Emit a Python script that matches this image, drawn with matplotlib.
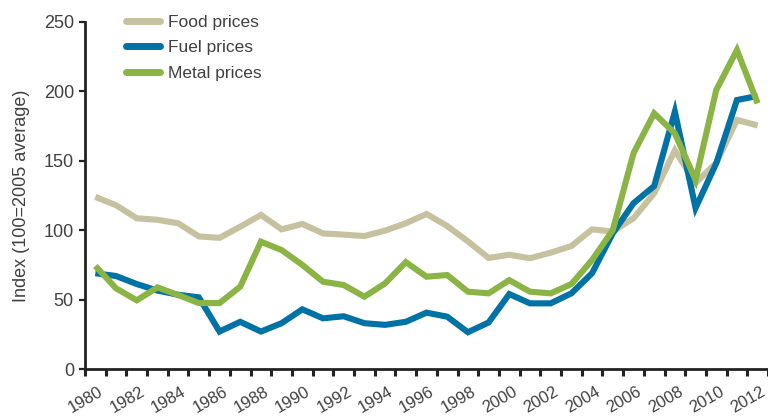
import matplotlib
matplotlib.use("Agg")
import matplotlib.pyplot as plt
import matplotlib.transforms as mtransforms
import numpy as np

years = list(range(1980, 2013))
food = [124, 118, 108.6, 107.5, 105, 95.5, 94.5, 102.5, 111, 100.6, 104.5,
        97.7, 96.8, 95.8, 99.7, 105, 111.7, 103, 92, 80, 82.3,
        79.8, 83.8, 88.6, 100.6, 99, 108.6, 126.6, 157.5, 134, 148.5, 179.4, 175.5]
fuel = [69, 67, 61.2, 56.5, 53.5, 51.6, 27, 34, 27, 33, 43,
        36.5, 38, 33, 31.8, 34, 40.6, 37.7, 26.5, 33.5, 54,
        47.3, 47.3, 54.5, 69, 97.8, 119.4, 131.8, 185.4, 116, 148.2, 193.8, 196.7]
metal = [74.2, 58.1, 49.5, 58.8, 53.3, 47.5, 47.5, 59.3, 91.7, 85.7, 75,
         62.9, 60.5, 52.1, 61.7, 77, 66.5, 67.7, 55.7, 54.5, 64,
         55.7, 54.5, 61.2, 78.5, 100, 155.4, 184.2, 169.8, 136.2, 201, 229.8, 191.4]
series_labels = ["Food prices", "Fuel prices", "Metal prices"]
yticks = [0, 50, 100, 150, 200, 250]
xlabels = list(range(1980, 2013, 2))

c_food = "#c6c29f"
c_fuel = "#0072a6"
c_metal = "#8ab443"
txt = "#404040"

plt.rcParams['font.family'] = ['Liberation Sans', 'DejaVu Sans']

fig = plt.figure(figsize=(7.68, 4.18), dpi=100)
ax = fig.add_axes([85/768, 49/418, (768-85)/768, 347/418])

lw = 4.4
ax.plot(years, food, color=c_food, lw=lw, solid_joinstyle='miter', solid_capstyle='butt', label=series_labels[0], zorder=2)
ax.plot(years, fuel, color=c_fuel, lw=lw, solid_joinstyle='miter', solid_capstyle='butt', label=series_labels[1], zorder=3)
ax.plot(years, metal, color=c_metal, lw=lw, solid_joinstyle='miter', solid_capstyle='butt', label=series_labels[2], zorder=4)

ax.set_xlim(1979.5, 2012.3)
ax.set_ylim(0, 250)

for s in ['top', 'right']:
    ax.spines[s].set_visible(False)
for s in ['left', 'bottom']:
    ax.spines[s].set_linewidth(2.0)
    ax.spines[s].set_color("#222222")

ax.set_yticks(yticks)
ax.set_yticklabels([str(v) for v in yticks])
ax.tick_params(axis='y', direction='out', length=4, width=1.6, color="#222222",
               labelsize=13, labelcolor=txt, pad=4)

ax.set_xticks(xlabels)
ax.set_xticklabels([str(v) for v in xlabels])
ax.set_xticks(np.arange(1979.5, 2012.6, 1.0), minor=True)
ax.tick_params(axis='x', which='major', length=0, labelsize=12, labelcolor=txt, pad=11)
ax.tick_params(axis='x', which='minor', direction='out', length=5, width=2.2, color="#222222")
offset = mtransforms.ScaledTranslation(3/100, 0, fig.dpi_scale_trans)
for lab in ax.get_xticklabels():
    lab.set_rotation(30)
    lab.set_ha('right')
    lab.set_va('top')
    lab.set_rotation_mode('anchor')
    lab.set_transform(lab.get_transform() + offset)

ax.set_ylabel("Index (100=2005 average)", fontsize=13, color=txt, labelpad=10)

leg = ax.legend(loc='upper left', bbox_to_anchor=(126/768, 1 - 15/418),
                bbox_transform=fig.transFigure, frameon=False, fontsize=12.5,
                handlelength=1.95, handletextpad=0.45, labelspacing=0.58,
                borderpad=0, borderaxespad=0)
for h in leg.get_lines():
    h.set_linewidth(5)
    h.set_solid_capstyle('round')
for t in leg.get_texts():
    t.set_color(txt)

fig.savefig("out.png", dpi=100)
